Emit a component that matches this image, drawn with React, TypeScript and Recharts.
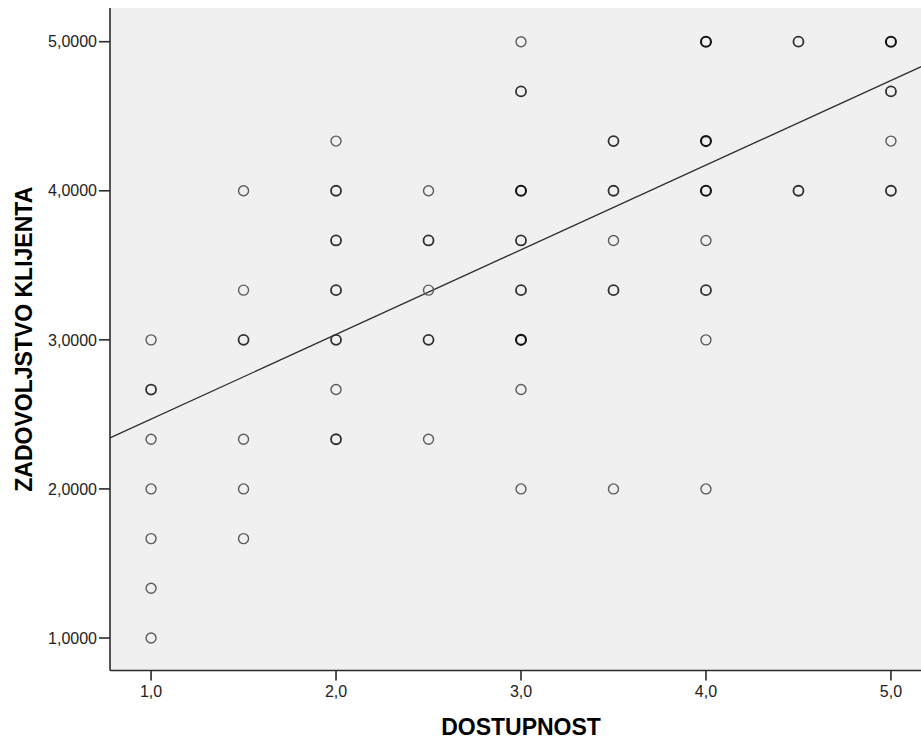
import React from 'react';
import {
  ScatterChart,
  Scatter,
  XAxis,
  YAxis,
  CartesianGrid,
  ReferenceLine,
  Label,
} from 'recharts';

// Observed points (DOSTUPNOST, ZADOVOLJSTVO KLIJENTA) and how many cases overlap at each
const xValues = [
  1, 1, 1, 1, 1, 1, 1,
  1.5, 1.5, 1.5, 1.5, 1.5, 1.5,
  2, 2, 2, 2, 2, 2, 2,
  2.5, 2.5, 2.5, 2.5, 2.5,
  3, 3, 3, 3, 3, 3, 3, 3,
  3.5, 3.5, 3.5, 3.5, 3.5,
  4, 4, 4, 4, 4, 4, 4,
  4.5, 4.5,
  5, 5, 5, 5,
];
const yValues = [
  3, 2.6667, 2.3333, 2, 1.6667, 1.3333, 1,
  4, 3.3333, 3, 2.3333, 2, 1.6667,
  4.3333, 4, 3.6667, 3.3333, 3, 2.6667, 2.3333,
  4, 3.6667, 3.3333, 3, 2.3333,
  5, 4.6667, 4, 3.6667, 3.3333, 3, 2.6667, 2,
  4.3333, 4, 3.6667, 3.3333, 2,
  5, 4.3333, 4, 3.6667, 3.3333, 3, 2,
  5, 4,
  5, 4.6667, 4.3333, 4,
];
const overlap = [
  1, 2, 1, 1, 1, 1, 1,
  1, 1, 2, 1, 1, 1,
  1, 2, 2, 2, 2, 1, 2,
  1, 2, 1, 2, 1,
  1, 2, 3, 2, 2, 3, 1, 1,
  2, 2, 1, 2, 1,
  3, 3, 3, 1, 2, 1, 1,
  2, 2,
  3, 2, 1, 2,
];

// Fit line
const fitIntercept = 1.9;
const fitSlope = 0.568;

const xTicks = [1, 2, 3, 4, 5];
const yTicks = [1, 2, 3, 4, 5];
const xDomain: [number, number] = [0.778, 5.222];
const yDomain: [number, number] = [0.782, 5.226];

const points = xValues.map((x, i) => ({ x, y: yValues[i], n: overlap[i] }));
const fitSegment = [
  { x: xDomain[0], y: fitIntercept + fitSlope * xDomain[0] },
  { x: xDomain[1], y: fitIntercept + fitSlope * xDomain[1] },
];

const FONT = '"Liberation Sans", Arial, sans-serif';

const strokeFor = (n: number) =>
  n >= 3 ? { stroke: '#141414', w: 2.1 } : n === 2 ? { stroke: '#303030', w: 1.8 } : { stroke: '#5c5c5c', w: 1.4 };

const PointShape = (props: any) => {
  const { cx, cy, payload } = props;
  if (cx == null || cy == null) return null;
  const s = strokeFor(payload?.n ?? 1);
  return <circle cx={cx} cy={cy} r={5} fill="none" stroke={s.stroke} strokeWidth={s.w} />;
};

const YTitle = (props: any) => {
  const vb = props.viewBox || {};
  const cx = vb.x + 13.5;
  const cy = vb.y + vb.height / 2;
  return (
    <text
      x={cx}
      y={cy}
      transform={`rotate(-90 ${cx} ${cy})`}
      textAnchor="middle"
      dominantBaseline="central"
      fontFamily={FONT}
      fontWeight="bold"
      fontSize={23}
      fill="#000"
    >
      ZADOVOLJSTVO KLIJENTA
    </text>
  );
};

const XTitle = (props: any) => {
  const vb = props.viewBox || {};
  const cx = vb.x + vb.width / 2;
  const cy = vb.y + 56.5;
  return (
    <text
      x={cx}
      y={cy}
      textAnchor="middle"
      dominantBaseline="central"
      fontFamily={FONT}
      fontWeight="bold"
      fontSize={23}
      fill="#000"
    >
      DOSTUPNOST
    </text>
  );
};

export default function App() {
  return (
    <div
      style={{
        position: 'absolute',
        left: 0,
        top: 0,
        width: 921,
        height: 740,
        overflow: 'hidden',
        background: '#fff',
      }}
    >
      <ScatterChart
        width={950}
        height={740}
        margin={{ top: 8, right: 18, bottom: 29.5, left: 10 }}
      >
        <CartesianGrid fill="#f0f0f0" horizontal={false} vertical={false} />
        <XAxis
          xAxisId="top"
          orientation="top"
          type="number"
          domain={xDomain}
          allowDataOverflow
          height={0}
          tick={false}
          tickLine={false}
          axisLine={{ stroke: '#8a8a8a', strokeWidth: 2 }}
        />
        <XAxis
          type="number"
          dataKey="x"
          domain={xDomain}
          allowDataOverflow
          ticks={xTicks}
          tickFormatter={(v: number) => v.toFixed(1).replace('.', ',')}
          height={40}
          tickSize={10}
          tickMargin={5}
          axisLine={{ stroke: '#2a2a2a', strokeWidth: 1.6 }}
          tickLine={{ stroke: '#2a2a2a', strokeWidth: 1.6 }}
          tick={{ fill: '#222', fontSize: 16, fontFamily: FONT }}
        >
          <Label content={XTitle} />
        </XAxis>
        <YAxis
          type="number"
          dataKey="y"
          domain={yDomain}
          allowDataOverflow
          ticks={yTicks}
          tickFormatter={(v: number) => v.toFixed(4).replace('.', ',')}
          width={100}
          tickSize={11}
          tickMargin={2}
          axisLine={{ stroke: '#2a2a2a', strokeWidth: 1.6 }}
          tickLine={{ stroke: '#2a2a2a', strokeWidth: 1.6 }}
          tick={{ fill: '#222', fontSize: 16, fontFamily: FONT }}
        >
          <Label content={YTitle} />
        </YAxis>
        <ReferenceLine
          segment={fitSegment}
          stroke="#2e2e2e"
          strokeWidth={1.3}
          ifOverflow="visible"
        />
        <Scatter data={points} shape={PointShape} isAnimationActive={false} />
      </ScatterChart>
    </div>
  );
}
